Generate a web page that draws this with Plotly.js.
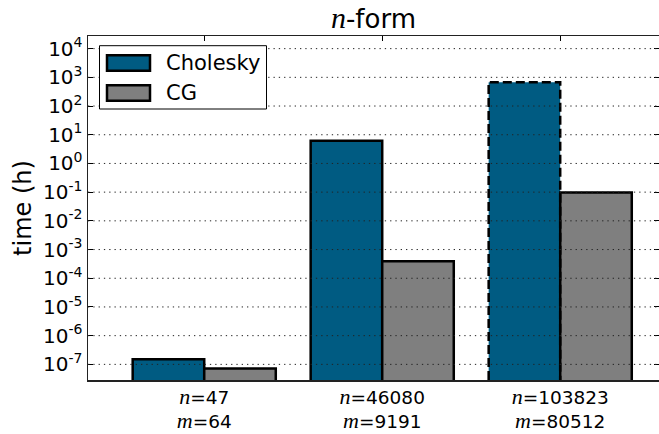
<!DOCTYPE html>
<html>
<head>
<meta charset="utf-8">
<script src="https://cdn.plot.ly/plotly-3.0.1.min.js"></script>
<style>html,body{margin:0;padding:0;background:#fff;}</style>
</head>
<body>
<div id="chart" style="width:659px;height:434px;"></div>
<script>
// ---- data ----
const seriesNames = ['Cholesky', 'CG'];
const nValues = [47, 46080, 103823];
const mValues = [64, 9191, 80512];
const groupIndex = [0, 1, 2];
const choleskyHours = [1.5e-7, 6.2, 680];
const cgHours = [7.2e-8, 3.9e-4, 0.098];
const choleskyEstimated = [false, false, true];
const yTickVals = [1e-7, 1e-6, 1e-5, 1e-4, 1e-3, 1e-2, 1e-1, 1e0, 1e1, 1e2, 1e3, 1e4];
const yTickText = ['10<sup>-7</sup>', '10<sup>-6</sup>', '10<sup>-5</sup>', '10<sup>-4</sup>', '10<sup>-3</sup>',
  '10<sup>-2</sup>', '10<sup>-1</sup>', '10<sup>0</sup>', '10<sup>1</sup>', '10<sup>2</sup>', '10<sup>3</sup>', '10<sup>4</sup>'];

// ---- styling ----
const BLUE = '#005b82';
const GRAY = '#7f7f7f';
const COLORS = [BLUE, GRAY];
const MATH = (s, size) => '<span style="font-family:\'Liberation Serif\';font-size:' + size + 'px"><i>' + s + '</i></span>';
const xTickText = nValues.map((n, i) => MATH('n', 22) + '=' + n + '<br>' + MATH('m', 22) + '=' + mValues[i]);
const bargap = 0.196;
const barW = (1 - bargap) / 2;
const yRangeLog = [-7.545, 4.44];
const yBottom = Math.pow(10, yRangeLog[0]);

const traces = [
  {
    type: 'bar', name: seriesNames[0], x: groupIndex, y: choleskyHours, showlegend: false,
    marker: { color: BLUE, line: { color: '#000', width: choleskyEstimated.map(e => e ? 0 : 2.5) } }
  },
  {
    type: 'bar', name: seriesNames[1], x: groupIndex, y: cgHours, showlegend: false,
    marker: { color: GRAY, line: { color: '#000', width: 2.5 } }
  }
];

// dashed outline for estimated bars
groupIndex.forEach((g, i) => {
  if (!choleskyEstimated[i]) return;
  const v = choleskyHours[i];
  traces.push({
    type: 'scatter', mode: 'lines', showlegend: false, hoverinfo: 'skip',
    x: [g - barW, g - barW, g, g],
    y: [yBottom, v, v, yBottom],
    line: { color: '#000', width: 2.5, dash: '9px,4px' },
    cliponaxis: true
  });
});

// dotted grid lines drawn above the bars
const shapes = yTickVals.map(v => ({
  type: 'line', xref: 'paper', x0: 0, x1: 1, yref: 'y',
  y0: v, y1: v, layer: 'above',
  line: { color: '#222', width: 1, dash: '1.3px,4px' }
}));

// legend box (matplotlib-style, large swatches)
const px = (p) => (p - 88) / 571;
const py = (p) => 1 - (p - 36) / 344;
shapes.push({
  type: 'rect', xref: 'paper', yref: 'paper', layer: 'above',
  x0: px(99.5), x1: px(266.5), y0: py(109), y1: py(45.7),
  fillcolor: '#fff', line: { color: '#000', width: 1 }
});
const legendRows = [63, 93];
const annotations = [];
seriesNames.forEach((name, i) => {
  const cy = legendRows[i];
  shapes.push({
    type: 'rect', xref: 'paper', yref: 'paper', layer: 'above',
    x0: px(107), x1: px(150), y0: py(cy + 7.8), y1: py(cy - 7.8),
    fillcolor: COLORS[i], line: { color: '#000', width: 2.5 }
  });
  annotations.push({
    xref: 'paper', yref: 'paper', x: px(164), y: py(cy), xanchor: 'left', yanchor: 'middle',
    text: name, showarrow: false, font: { family: 'DejaVu Sans', size: 21, color: '#000' }
  });
});

const layout = {
  width: 659, height: 434,
  margin: { l: 88, r: 0, t: 36, b: 54 },
  paper_bgcolor: '#fff', plot_bgcolor: '#fff',
  font: { family: 'DejaVu Sans', size: 20, color: '#000' },
  title: {
    text: MATH('n', 30) + '-form',
    font: { family: 'DejaVu Sans', size: 26, color: '#000' },
    x: 0.5, xref: 'paper', xanchor: 'center',
    y: 1 - 19 / 434, yref: 'container', yanchor: 'middle'
  },
  barmode: 'group', bargap: bargap, bargroupgap: 0,
  showlegend: false,
  xaxis: {
    range: [-0.653, 2.555],
    tickvals: groupIndex, ticktext: xTickText,
    ticks: 'inside', ticklen: 5, tickcolor: '#000',
    showline: true, linecolor: '#222', linewidth: 1.5, mirror: 'ticks',
    showgrid: false, zeroline: false,
    tickfont: { family: 'DejaVu Sans', size: 18.5 }
  },
  yaxis: {
    type: 'log', range: yRangeLog,
    tickvals: yTickVals, ticktext: yTickText,
    ticks: 'inside', ticklen: 5, tickcolor: '#000',
    showline: true, linecolor: '#222', linewidth: 1.5, mirror: 'ticks',
    showgrid: false, zeroline: false,
    tickfont: { family: 'DejaVu Sans', size: 20 },
    title: { text: 'time (h)', font: { family: 'DejaVu Sans', size: 24 }, standoff: 4 }
  },
  shapes: shapes,
  annotations: annotations
};

Plotly.newPlot('chart', traces, layout, { displayModeBar: false, staticPlot: true });
</script>
</body>
</html>
